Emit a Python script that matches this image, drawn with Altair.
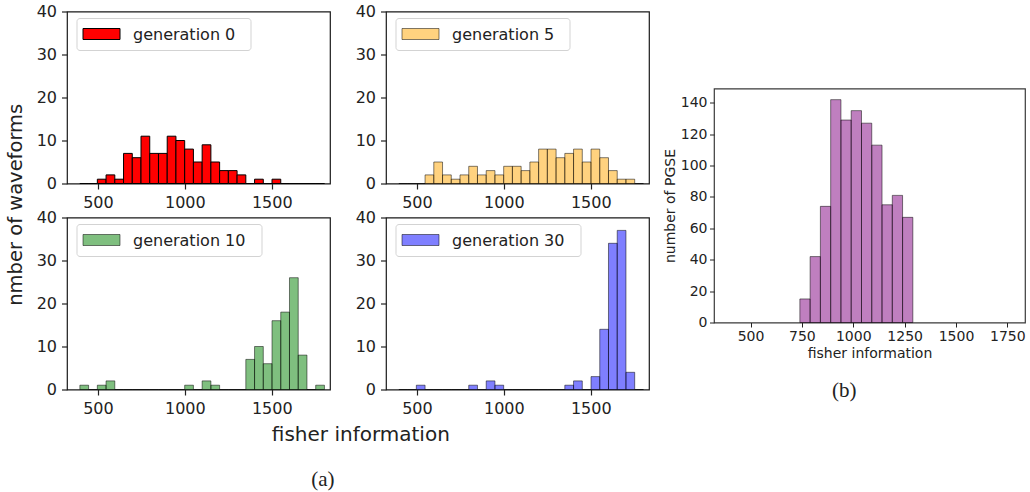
import altair as alt
import numpy as np
import pandas as pd

FONT = "DejaVu Sans"
SERIF = "Liberation Serif"
INK = "#222222"

# ---- generation histograms (left 2x2 block) ----
gen_labels = ["generation 0", "generation 5", "generation 10", "generation 30"]
gen_colors = ["#ff0000", "#ffa500", "#008000", "#0000ff"]
gen_alpha = [1.0, 0.5, 0.5, 0.5]

# counts per bin, 28 equal bins between 396 and 1803
counts_gen0 = [0, 0, 1, 2, 1, 7, 6, 11, 7, 7, 11, 10, 8, 5, 9, 5, 3, 3, 2, 0, 1, 0, 1, 0, 0, 0, 0, 0]
counts_gen5 = [0, 0, 0, 2, 5, 2, 1, 2, 4, 2, 3, 2, 4, 4, 3, 5, 8, 8, 6, 7, 8, 5, 8, 6, 3, 1, 1, 0]
counts_gen10 = [1, 0, 1, 2, 0, 0, 0, 0, 0, 0, 0, 0, 1, 0, 2, 1, 0, 0, 0, 7, 10, 6, 16, 18, 26, 8, 0, 1]
counts_gen30 = [0, 0, 1, 0, 0, 0, 0, 0, 1, 0, 2, 1, 0, 0, 0, 0, 0, 0, 0, 1, 2, 0, 3, 14, 34, 37, 4, 0]
gen_counts = [counts_gen0, counts_gen5, counts_gen10, counts_gen30]
gen_bin_lo, gen_bin_hi, gen_nbins = 396.0, 1803.0, 28
gen_xticks = [500, 1000, 1500]
gen_yticks = [0, 10, 20, 30, 40]

# ---- PGSE histogram (right panel) ----
pgse_counts = [15, 42, 74, 142, 129, 135, 127, 113, 75, 81, 67]
pgse_bin_lo, pgse_bin_hi = 740.0, 1290.0
pgse_xticks = [500, 750, 1000, 1250, 1500, 1750]
pgse_yticks = [0, 20, 40, 60, 80, 100, 120, 140]

GEN_W, GEN_H = 263, 172
legend_right = [184, 184, 195, 195]


def gen_axis(values):
    return alt.Axis(values=values, format="d", title=None, grid=False, domain=False,
                    tickSize=5.5, tickWidth=1.2, tickColor=INK,
                    labelFont=FONT, labelFontSize=16, labelColor=INK, labelPadding=5)


def gen_panel(k):
    edges = np.linspace(gen_bin_lo, gen_bin_hi, gen_nbins + 1)
    df = pd.DataFrame({"x0": edges[:-1], "x1": edges[1:], "n": gen_counts[k]})
    bars = alt.Chart(df).mark_bar(
        fill=gen_colors[k], fillOpacity=gen_alpha[k],
        stroke="black", strokeOpacity=gen_alpha[k], strokeWidth=1,
    ).encode(
        x=alt.X("x0:Q", scale=alt.Scale(domain=[322, 1835], nice=False, zero=False),
                axis=gen_axis(gen_xticks)),
        x2="x1:Q",
        y=alt.Y("n:Q", scale=alt.Scale(domain=[0, 40], nice=False), axis=gen_axis(gen_yticks)),
        y2=alt.datum(0),
    )
    leg = pd.DataFrame({"label": [gen_labels[k]]})
    box = alt.Chart(leg).mark_rect(
        fill="white", fillOpacity=0.8, stroke="#d3d3d3", strokeWidth=1, cornerRadius=3
    ).encode(x=alt.value(10), x2=alt.value(legend_right[k]), y=alt.value(7), y2=alt.value(39))
    patch = alt.Chart(leg).mark_rect(
        fill=gen_colors[k], fillOpacity=gen_alpha[k],
        stroke="black", strokeOpacity=gen_alpha[k], strokeWidth=1,
    ).encode(x=alt.value(16), x2=alt.value(53), y=alt.value(17), y2=alt.value(28))
    label = alt.Chart(leg).mark_text(
        align="left", baseline="middle", font=FONT, fontSize=16, color=INK
    ).encode(x=alt.value(66), y=alt.value(23), text="label:N")
    return alt.layer(bars, box, patch, label).properties(width=GEN_W, height=GEN_H)


panels = [gen_panel(k) for k in range(4)]

grid = alt.concat(
    *panels, columns=2, bounds="flush", spacing={"row": 34, "column": 56},
    title=alt.TitleParams("nmber of waveforms", orient="left", anchor="middle", frame="bounds",
                          font=FONT, fontSize=19.5, fontWeight="normal", color=INK,
                          offset=9, dx=5),
)
grid_x = alt.vconcat(
    grid,
    title=alt.TitleParams("fisher information", orient="bottom", anchor="middle", frame="bounds",
                          font=FONT, fontSize=20, fontWeight="normal", color=INK, offset=8, dx=33),
)
block_a = alt.vconcat(
    grid_x,
    title=alt.TitleParams("(a)", orient="bottom", anchor="middle", frame="bounds",
                          font=SERIF, fontSize=21, fontWeight="normal", color=INK, offset=24, dx=-5),
)

# right panel
pedges = np.linspace(pgse_bin_lo, pgse_bin_hi, len(pgse_counts) + 1)
pgse_df = pd.DataFrame({"x0": pedges[:-1], "x1": pedges[1:], "n": pgse_counts})


def pgse_axis(values, title):
    return alt.Axis(values=values, format="d", title=title, grid=False, domain=False,
                    tickSize=4.5, tickWidth=1, tickColor=INK,
                    labelFont=FONT, labelFontSize=14, labelColor=INK, labelPadding=2.5,
                    titleFont=FONT, titleFontSize=14, titleFontWeight="normal",
                    titleColor=INK, titlePadding=3)


pgse = alt.Chart(pgse_df).mark_bar(
    fill="#800080", fillOpacity=0.5, stroke="black", strokeOpacity=0.5, strokeWidth=1
).encode(
    x=alt.X("x0:Q", scale=alt.Scale(domain=[322, 1836], nice=False, zero=False),
            axis=pgse_axis(pgse_xticks, "fisher information")),
    x2="x1:Q",
    y=alt.Y("n:Q", scale=alt.Scale(domain=[0, 149.1], nice=False),
            axis=pgse_axis(pgse_yticks, "number of PGSE")),
    y2=alt.datum(0),
).properties(
    width=311, height=234,
    view=alt.ViewBackground(stroke="#3a3a3a", strokeWidth=1.2),
    title=alt.TitleParams("(b)", orient="bottom", anchor="middle", frame="bounds",
                          font=SERIF, fontSize=21, fontWeight="normal", color=INK, offset=19),
)

spacer = alt.Chart(pd.DataFrame({"v": [0]})).mark_point(opacity=0).encode(
    x=alt.value(5), y=alt.value(40)
).properties(width=10, height=75, view=alt.ViewBackground(stroke="transparent"))

block_b = alt.vconcat(spacer, pgse, spacing=0)

chart = alt.hconcat(block_a, block_b, spacing=12).properties(
    padding={"left": 6, "top": 2.5, "right": 4, "bottom": 0}
).configure_view(stroke="#1a1a1a", strokeWidth=1.2)

chart.save("out.html", embed_options={"renderer": "svg", "actions": False})
